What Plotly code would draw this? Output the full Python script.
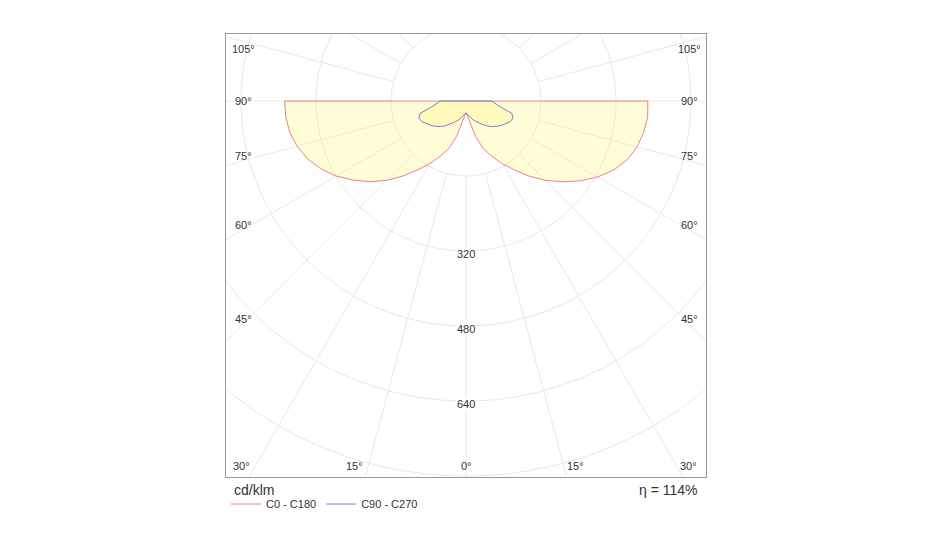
import numpy as np
import plotly.graph_objects as go

# luminous intensity distribution, cd/klm, gamma = angle from nadir
gamma = [0, 5, 10, 15, 20, 25, 30, 35, 40, 45, 50, 55, 60, 65, 70, 75, 80, 85, 90]
c0 = [25, 30, 45, 78, 108, 130, 154, 179, 209, 239, 268, 297, 324, 348, 366, 378, 385, 389, 388]
c180 = [25, 30, 45, 78, 108, 130, 154, 179, 209, 239, 268, 294, 320, 342, 360, 373, 382, 386, 387]
c90 = [25, 28, 32, 36, 42, 47, 53, 61, 69, 77, 84, 91, 97, 104, 107, 101, 75, 62, 55]
c270 = [25, 28, 32, 36, 42, 47, 53, 61, 69, 77, 84, 91, 97, 104, 107, 101, 75, 62, 55]

grid_r = [160, 320, 480, 640, 800, 960]
label_r = [320, 480, 640]
side_angles = [45, 60, 75, 90, 105]
bottom_angles = [0, 15, 30]
eta_text = "\u03b7 = 114%"
unit_text = "cd/klm"

FONT = "Arial, Liberation Sans, sans-serif"
X_RANGE = [-512, 512]
Y_RANGE = [-802, 143]
PX = (X_RANGE[1] - X_RANGE[0]) / 480.0  # data units per pixel


def outline(right, left):
    g = np.radians(gamma)
    rr = np.array(right, dtype=float)
    rl = np.array(left, dtype=float)
    x = np.concatenate([-rl[::-1] * np.sin(g[::-1]), rr * np.sin(g)])
    y = np.concatenate([-rl[::-1] * np.cos(g[::-1]), -rr * np.cos(g)])
    return np.append(x, x[0]), np.append(y, y[0])


fig = go.Figure()

# grid circles
t = np.linspace(0, 2 * np.pi, 721)
gx, gy = [], []
for r in grid_r:
    gx += list(r * np.cos(t)) + [None]
    gy += list(r * np.sin(t)) + [None]
# radial lines every 15 deg, starting at the first circle
for a in range(0, 360, 15):
    ar = np.radians(a)
    gx += [grid_r[0] * np.sin(ar), 1100 * np.sin(ar), None]
    gy += [-grid_r[0] * np.cos(ar), -1100 * np.cos(ar), None]
fig.add_trace(go.Scatter(x=gx, y=gy, mode="lines", hoverinfo="skip",
                         line=dict(color="#e8e8e8", width=1), showlegend=False))

series = [("C0 - C180", c0, c180, "#eb8383"), ("C90 - C270", c90, c270, "#7c7cd2")]
for name, right, left, col in series:
    x, y = outline(right, left)
    fig.add_trace(go.Scatter(x=x, y=y, mode="lines", fill="toself",
                             fillcolor="rgba(255,245,110,0.27)",
                             line=dict(width=0), hoverinfo="skip", showlegend=False))
for name, right, left, col in series:
    x, y = outline(right, left)
    fig.add_trace(go.Scatter(x=x, y=y, mode="lines", name=name,
                             line=dict(color=col, width=1)))

ann = []
# radial value labels
for r in label_r:
    ann.append(dict(x=0, y=-r, text=str(r), showarrow=False, yshift=-3,
                    bgcolor="white", borderpad=0,
                    font=dict(size=11, color="#333", family=FONT)))

# angle labels on the sides
xc = X_RANGE[1] - 17 * PX
for a in side_angles:
    ar = np.radians(a)
    yl = -xc * np.cos(ar) / np.sin(ar)
    ys = 5 if a < 90 else (0 if a == 90 else -8)
    for side in (-1, 1):
        ann.append(dict(x=side * xc, y=yl, text=f"{a}\u00b0", showarrow=False,
                        xanchor="center", yanchor="middle", yshift=ys,
                        font=dict(size=11, color="#333", family=FONT)))

# angle labels along the bottom
yb = Y_RANGE[0] + 11 * PX
for a in bottom_angles:
    xl = -yb * np.tan(np.radians(a))
    if a == 0:
        ann.append(dict(x=0, y=yb, text="0\u00b0", showarrow=False, xanchor="center",
                        font=dict(size=11, color="#333", family=FONT)))
        continue
    ann.append(dict(x=-xl, y=yb, text=f"{a}\u00b0", showarrow=False, xanchor="right",
                    xshift=-3, font=dict(size=11, color="#333", family=FONT)))
    ann.append(dict(x=xl, y=yb, text=f"{a}\u00b0", showarrow=False, xanchor="left",
                    xshift=1, font=dict(size=11, color="#333", family=FONT)))

ann.append(dict(xref="paper", yref="paper", x=0, y=-0.029, xanchor="left", yanchor="middle",
                xshift=6, text=unit_text, showarrow=False,
                font=dict(size=14, color="#333", family=FONT)))
ann.append(dict(xref="paper", yref="paper", x=0.9875, y=-0.029, xanchor="right", yanchor="middle",
                text=eta_text, showarrow=False,
                font=dict(size=14, color="#333", family=FONT)))

fig.update_layout(
    width=933, height=560,
    margin=dict(l=218, r=235, t=26, b=91),
    paper_bgcolor="white", plot_bgcolor="white",
    annotations=ann,
    legend=dict(orientation="h", x=0, y=-0.061, xanchor="left", yanchor="middle",
                font=dict(size=11, color="#333", family=FONT), itemwidth=30,
                bgcolor="rgba(0,0,0,0)"),
    font=dict(family=FONT),
)
fig.update_xaxes(range=X_RANGE, showgrid=False, zeroline=False, showticklabels=False,
                 ticks="", showline=True, mirror=True, linecolor="#999", linewidth=1,
                 fixedrange=True)
fig.update_yaxes(range=Y_RANGE, showgrid=False, zeroline=False, showticklabels=False,
                 ticks="", showline=True, mirror=True, linecolor="#999", linewidth=1,
                 fixedrange=True)

fig.write_html("out.html")
